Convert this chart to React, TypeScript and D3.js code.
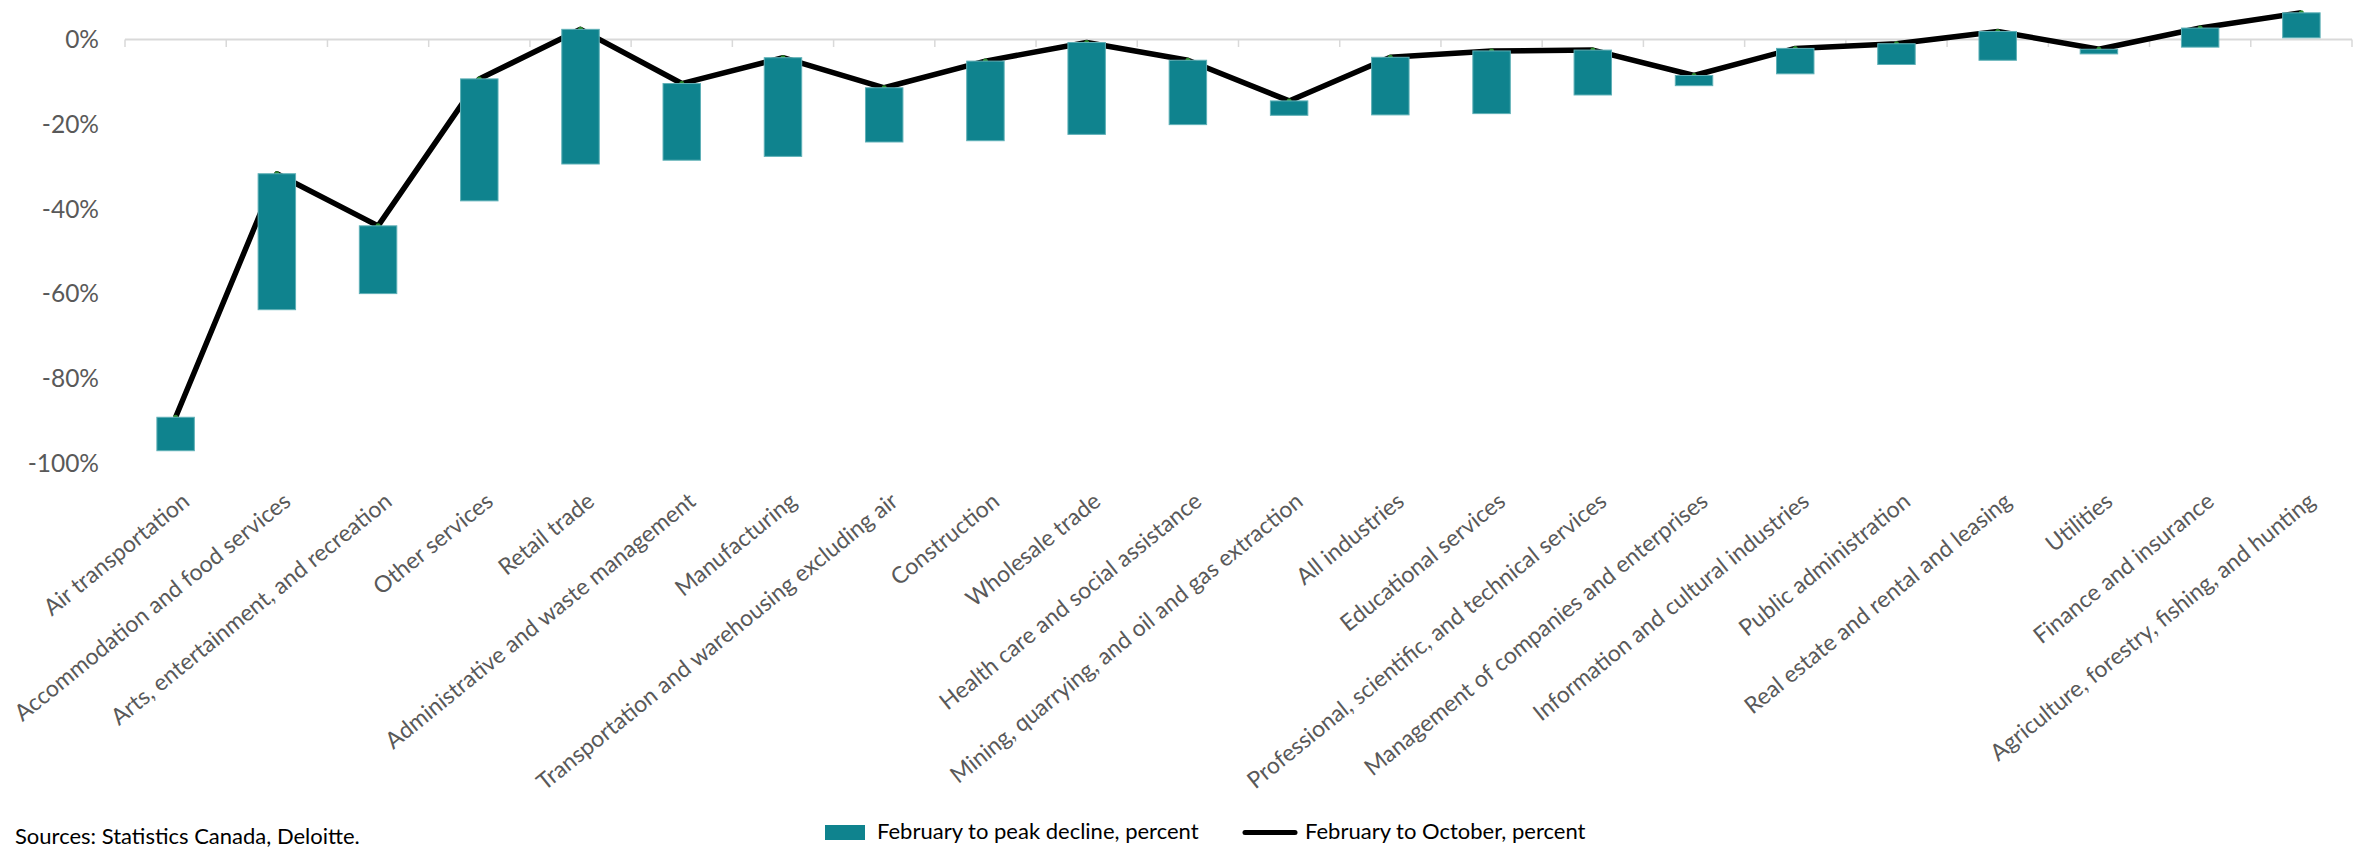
import React from "react";
import * as d3 from "d3";

const categories: string[] = [
  "Air transportation",
  "Accommodation and food services",
  "Arts, entertainment, and recreation",
  "Other services",
  "Retail trade",
  "Administrative and waste management",
  "Manufacturing",
  "Transportation and warehousing excluding air",
  "Construction",
  "Wholesale trade",
  "Health care and social assistance",
  "Mining, quarrying, and oil and gas extraction",
  "All industries",
  "Educational services",
  "Professional, scientific, and technical services",
  "Management of companies and enterprises",
  "Information and cultural industries",
  "Public administration",
  "Real estate and rental and leasing",
  "Utilities",
  "Finance and insurance",
  "Agriculture, forestry, fishing, and hunting",
];

// February to October, percent (line)
const febToOctober: number[] = [
  -89.2, -31.7, -44.0, -9.3, 2.4, -10.4, -4.3, -11.4, -5.1, -0.7, -4.9,
  -14.5, -4.2, -2.7, -2.5, -8.5, -2.1, -1.0, 1.9, -2.3, 2.7, 6.3,
];

// February to peak decline, percent (floating bar end)
const febToPeak: number[] = [
  -97.1, -63.8, -60.0, -38.1, -29.4, -28.5, -27.6, -24.2, -23.9, -22.4, -20.1,
  -17.9, -17.8, -17.5, -13.1, -10.9, -8.1, -5.9, -4.9, -3.4, -1.8, 0.4,
];

const yTicks: number[] = [0, -20, -40, -60, -80, -100];

const legendBar = "February to peak decline, percent";
const legendLine = "February to October, percent";
const sourceText = "Sources: Statistics Canada, Deloitte.";

const W = 2364;
const H = 847;
const FONT = "Lato, 'Open Sans', sans-serif";

export default function App() {
  const x = d3.scaleBand<string>().domain(categories).range([125, 2352]).padding(0);
  const y = d3.scaleLinear().domain([-100, 0]).range([463, 39.5]);
  const bw = x.bandwidth() * 0.37;
  const cx = (c: string) => (x(c) as number) + x.bandwidth() / 2;

  const pts = categories.map((c, i) => [cx(c), y(febToOctober[i])] as [number, number]);
  const line = d3.line<[number, number]>().x((d) => d[0]).y((d) => d[1]);

  const boundaries = d3.range(categories.length + 1).map((i) => 125 + i * x.bandwidth());

  return (
    <svg
      width={W}
      height={H}
      style={{ position: "absolute", left: 0, top: 0, display: "block", background: "#fff" }}
      fontFamily={FONT}
    >
      {/* category axis line at 0 */}
      <line x1={125} x2={2352} y1={y(0)} y2={y(0)} stroke="#d9d9d9" strokeWidth={2} />
      {boundaries.map((bx, i) => (
        <line key={"t" + i} x1={bx} x2={bx} y1={y(0)} y2={y(0) + 7.5} stroke="#d9d9d9" strokeWidth={1.5} />
      ))}

      {/* y tick labels */}
      {yTicks.map((t) => (
        <text
          key={"y" + t}
          x={99}
          y={y(t)}
          dy="0.36em"
          textAnchor="end"
          fontSize={24.5}
          fill="#595959"
        >
          {`${t}%`}
        </text>
      ))}

      {/* line */}
      <path d={line(pts) || ""} fill="none" stroke="#000" strokeWidth={5.5} strokeLinejoin="round" />
      {pts.map((p, i) => (
        <circle key={"m" + i} cx={p[0]} cy={p[1]} r={2.5} fill="#2e8b2e" />
      ))}

      {/* floating bars */}
      {categories.map((c, i) => {
        const a = febToOctober[i];
        const b = febToPeak[i];
        const top = y(Math.max(a, b));
        const bot = y(Math.min(a, b));
        return (
          <rect
            key={"b" + i}
            x={cx(c) - bw / 2}
            y={top}
            width={bw}
            height={bot - top}
            fill="#0f838e"
            stroke="#5fb0b7"
            strokeWidth={1}
          />
        );
      })}

      {/* category labels */}
      {categories.map((c) => (
        <text
          key={"c" + c}
          transform={`translate(${cx(c) + 5},${491}) rotate(-39)`}
          dy="0.72em"
          textAnchor="end"
          fontSize={23}
          fill="#595959"
        >
          {c}
        </text>
      ))}

      {/* source */}
      <text x={15} y={844} fontSize={22} fill="#000">
        {sourceText}
      </text>

      {/* legend */}
      <rect x={825} y={825} width={40} height={15} fill="#0f838e" />
      <text x={877} y={839} fontSize={22} fill="#000">
        {legendBar}
      </text>
      <line x1={1245} x2={1295} y1={832.5} y2={832.5} stroke="#000" strokeWidth={5} strokeLinecap="round" />
      <text x={1305} y={839} fontSize={22} fill="#000">
        {legendLine}
      </text>
    </svg>
  );
}
